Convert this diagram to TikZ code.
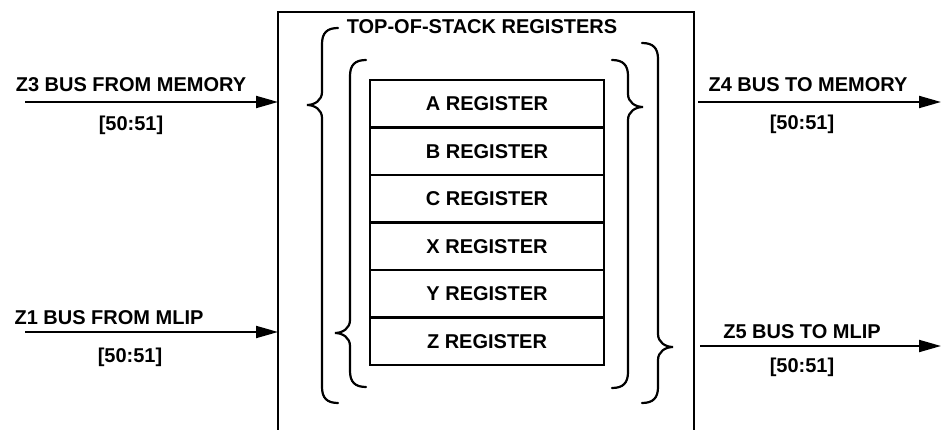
\documentclass[tikz,border=0pt]{standalone}
\usepackage{fontspec}
\setmainfont{Liberation Sans}
\usetikzlibrary{positioning,arrows.meta,calc}
\tikzset{
  stk/reg/.style  ={draw, line width=2.4pt, minimum width=234pt, minimum height=47.5pt,
                    inner sep=0pt, outer sep=0pt, font=\bfseries\fontsize{20}{22}\selectfont},
  stk/lbl/.style  ={font=\bfseries\fontsize{20}{22}\selectfont, inner sep=0pt,
                    text height=14pt, text depth=0pt},
  stk/bus/.style  ={-{Triangle[length=22pt, width=12pt]}, line width=2pt},
  stk/frame/.style={line width=2pt},
  stk/brace/.style={line width=2.2pt, line cap=round}
}
% x, top, tip, bottom, side (+1 tip to the right, -1 tip to the left)
\newcommand{\stackbrace}[5]{%
  \draw[stk/brace] ({#1-(#5)*16},#2) .. controls ({#1-(#5)*5},#2) and (#1,{#2+5}) .. (#1,{#2+16})
    -- (#1,{#3-13}) .. controls (#1,{#3-5}) and ({#1+(#5)*7},#3) .. ({#1+(#5)*15},#3)
    .. controls ({#1+(#5)*7},#3) and (#1,{#3+5}) .. (#1,{#3+13})
    -- (#1,{#4-16}) .. controls (#1,{#4-5}) and ({#1-(#5)*5},#4) .. ({#1-(#5)*16},#4);
}

\begin{document}
\begin{tikzpicture}[x=1pt, y=-1pt]
  \useasboundingbox (0,0) rectangle (941,430);

  % outer unit frame (open at the bottom)
  \coordinate (frmW) at (278,12);
  \coordinate (frmE) at (694,12);
  \draw[stk/frame] (278,430) -- (frmW) -- (frmE) -- (694,430);

  % register stack
  \foreach \i/\name in {0/A, 1/B, 2/C, 3/X, 4/Y, 5/Z} {
    \node[stk/reg] (reg\name) at (487, 103.75+\i*47.5) {\name\ REGISTER};
  }
  \node[stk/lbl] (tosTitle) at (482,27) {TOP-OF-STACK REGISTERS};

  % braces
  \stackbrace{322}{28}{105}{403}{-1}
  \stackbrace{350}{60}{333}{387}{-1}
  \stackbrace{628}{60}{107}{388}{1}
  \stackbrace{658}{43}{347}{403}{1}

  % input buses
  \coordinate (z3src) at (25,102);
  \coordinate (z1src) at (25,332);
  \draw[stk/bus] (z3src) -- (z3src -| frmW);
  \draw[stk/bus] (z1src) -- (z1src -| frmW);
  \node[stk/lbl] (z3lbl) at (131,85)  {Z3 BUS FROM MEMORY};
  \node[stk/lbl] (z3bit) at (131,124) {[50:51]};
  \node[stk/lbl] (z1lbl) at (109,317) {Z1 BUS FROM MLIP};
  \node[stk/lbl] (z1bit) at (130,355) {[50:51]};

  % output buses
  \coordinate (z4src) at (698,102);
  \coordinate (z4dst) at (941,102);
  \coordinate (z5src) at (700,346);
  \coordinate (z5dst) at (941,346);
  \draw[stk/bus] (z4src) -- (z4dst);
  \draw[stk/bus] (z5src) -- (z5dst);
  \node[stk/lbl] (z4lbl) at (808,85)  {Z4 BUS TO MEMORY};
  \node[stk/lbl] (z4bit) at (802,123) {[50:51]};
  \node[stk/lbl] (z5lbl) at (802,331) {Z5 BUS TO MLIP};
  \node[stk/lbl] (z5bit) at (802,365) {[50:51]};
\end{tikzpicture}
\end{document}
